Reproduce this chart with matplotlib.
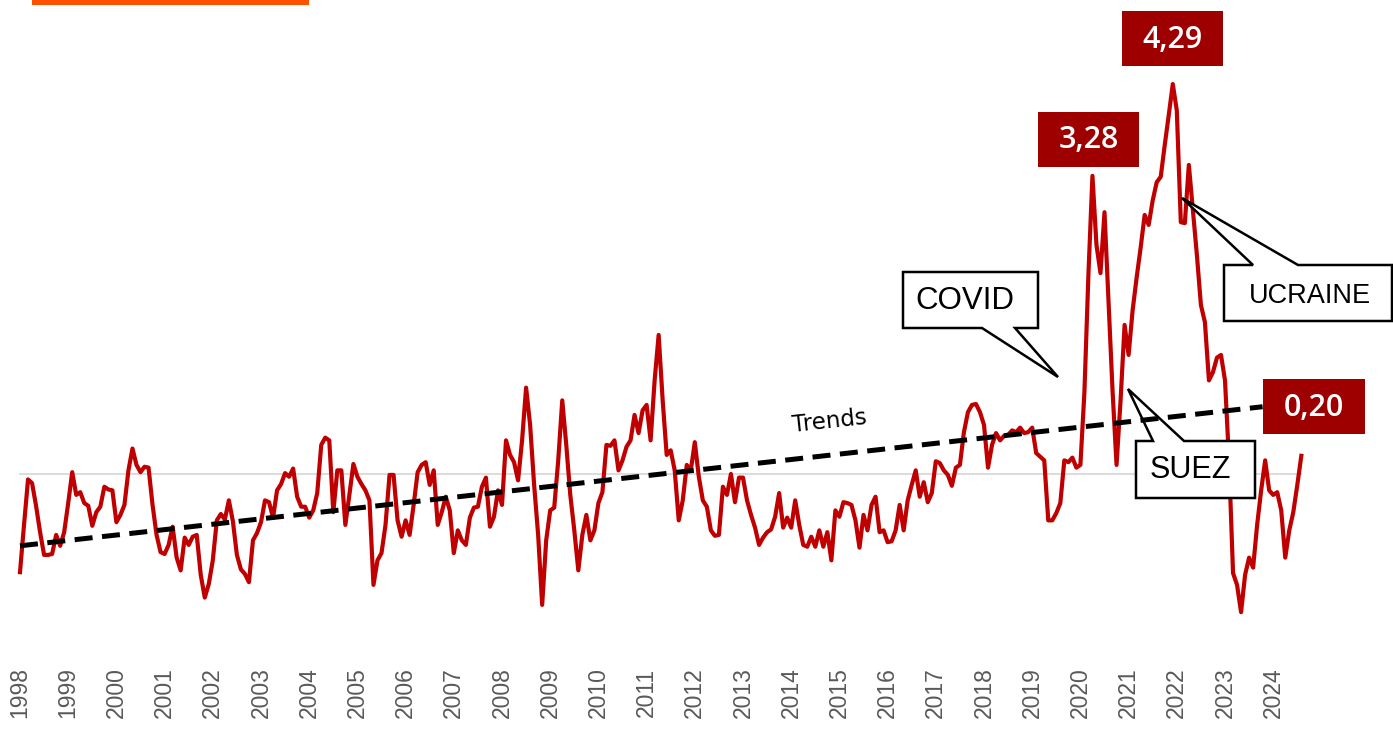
import numpy as np
import matplotlib
matplotlib.use("Agg")
import matplotlib.pyplot as plt
from matplotlib.patches import Polygon, Rectangle

# ---------------- data (monthly, Jan 1998 - Aug 2024) ----------------
start_year = 1998
values = [
    -1.08, -0.56, -0.06, -0.10, -0.35, -0.64, -0.89, -0.89, -0.88, -0.67, -0.79, -0.64,  # 1998
    -0.32, 0.02, -0.23, -0.20, -0.32, -0.35, -0.57, -0.42, -0.36, -0.14, -0.17, -0.18,   # 1999
    -0.53, -0.45, -0.34, 0.04, 0.28, 0.10, 0.02, 0.08, 0.07, -0.34, -0.67, -0.86,        # 2000
    -0.88, -0.78, -0.58, -0.92, -1.06, -0.70, -0.78, -0.69, -0.67, -1.11, -1.36, -1.21,  # 2001
    -0.95, -0.51, -0.44, -0.50, -0.29, -0.52, -0.89, -1.05, -1.10, -1.19, -0.73, -0.65,  # 2002
    -0.53, -0.29, -0.31, -0.48, -0.18, -0.11, 0.01, -0.03, 0.06, -0.25, -0.36, -0.36,    # 2003
    -0.48, -0.40, -0.21, 0.32, 0.40, 0.37, -0.42, 0.04, 0.04, -0.56, -0.23, 0.11,        # 2004
    -0.03, -0.11, -0.18, -0.29, -1.22, -0.95, -0.87, -0.56, -0.01, -0.01, -0.51, -0.69,  # 2005
    -0.51, -0.67, -0.34, 0.02, 0.10, 0.13, -0.12, 0.04, -0.56, -0.42, -0.25, -0.40,      # 2006
    -0.87, -0.62, -0.73, -0.78, -0.48, -0.37, -0.36, -0.14, -0.04, -0.58, -0.47, -0.18,  # 2007
    -0.34, 0.37, 0.21, 0.13, -0.07, 0.37, 0.95, 0.54, -0.12, -0.67, -1.44, -0.73,        # 2008
    -0.40, -0.37, 0.15, 0.81, 0.32, -0.23, -0.62, -1.06, -0.67, -0.45, -0.73, -0.62,     # 2009
    -0.32, -0.20, 0.32, 0.31, 0.37, 0.04, 0.15, 0.30, 0.37, 0.65, 0.45, 0.70,            # 2010
    0.76, 0.37, 1.03, 1.53, 0.81, 0.21, 0.26, 0.04, -0.51, -0.29, 0.10, 0.04,            # 2011
    0.35, -0.03, -0.29, -0.36, -0.62, -0.68, -0.67, -0.14, -0.23, 0.00, -0.31, -0.04,    # 2012
    -0.04, -0.29, -0.45, -0.59, -0.78, -0.70, -0.64, -0.61, -0.47, -0.21, -0.59, -0.48,  # 2013
    -0.59, -0.29, -0.56, -0.78, -0.80, -0.69, -0.80, -0.62, -0.80, -0.64, -0.95, -0.40,  # 2014
    -0.47, -0.31, -0.32, -0.34, -0.51, -0.81, -0.45, -0.62, -0.34, -0.25, -0.64, -0.62,  # 2015
    -0.75, -0.74, -0.62, -0.34, -0.62, -0.29, -0.12, 0.04, -0.25, -0.09, -0.31, -0.21,   # 2016
    0.14, 0.12, 0.04, -0.01, -0.13, 0.07, 0.10, 0.46, 0.68, 0.76, 0.77, 0.68,            # 2017
    0.54, 0.07, 0.32, 0.45, 0.37, 0.42, 0.43, 0.48, 0.46, 0.51, 0.45, 0.46,              # 2018
    0.51, 0.23, 0.19, 0.15, -0.51, -0.51, -0.43, -0.32, 0.15, 0.13, 0.18, 0.07,          # 2019
    0.10, 0.90, 2.20, 3.28, 2.52, 2.21, 2.88, 1.91, 0.92, 0.10, 0.81, 1.64,              # 2020
    1.31, 1.80, 2.16, 2.49, 2.85, 2.74, 3.01, 3.21, 3.27, 3.62, 3.95, 4.29,              # 2021
    4.00, 2.77, 2.76, 3.40, 2.90, 2.41, 1.86, 1.67, 1.03, 1.12, 1.28, 1.31,              # 2022
    1.03, 0.15, -1.09, -1.22, -1.52, -1.11, -0.92, -1.03, -0.56, -0.18, 0.15, -0.18,     # 2023
    -0.23, -0.20, -0.40, -0.92, -0.62, -0.42, -0.12, 0.20,                               # 2024
]
tick_years = list(range(1998, 2025))
tick_labels = [str(y) for y in tick_years]
trend_x = [1998.0, 2023.78]
trend_y = [-0.79, 0.74]
box_labels = ["3,28", "4,29", "0,20"]
callout_labels = ["COVID", "UCRAINE", "SUEZ"]

x = start_year + np.arange(len(values)) / 12.0

# ---------------- figure ----------------
W, H = 1393, 730
fig = plt.figure(figsize=(W / 100, H / 100), dpi=100)
ax = fig.add_axes([0, 75 / H, 1, 655 / H])
ax.set_xlim(1998 - 20 / 48.2, 1998 + (W - 20) / 48.2)
ax.set_ylim((474 - 655) / 90.9, 474 / 90.9)
for s in ax.spines.values():
    s.set_visible(False)
ax.set_yticks([])
ax.set_xticks(tick_years)
ax.set_xticklabels(tick_labels, rotation=90, fontsize=16.5, color="#595959",
                   family=["Liberation Sans", "DejaVu Sans"])
ax.tick_params(axis="x", length=0, pad=9.0)


def px(xp, yp):
    return (1998 + (xp - 20) / 48.2, (474 - yp) / 90.9)


# zero line
ax.plot([x[0], x[-1]], [0, 0], color="#d9d9d9", lw=1.3, zorder=1)
# series
ax.plot(x, values, color="#C00000", lw=3.0, zorder=2, solid_joinstyle="round")

# callouts
callouts = [
    ([(903, 272), (1038, 272), (1038, 328), (1015, 328), (1058, 377), (982, 328), (903, 328)],
     (965, 301), callout_labels[0], 22.5),
    ([(1224, 265), (1253, 265), (1182, 198), (1298, 265), (1392, 265), (1392, 321), (1224, 321)],
     (1310, 296), callout_labels[1], 19.5),
    ([(1136, 441), (1153, 441), (1128, 389), (1184, 441), (1255, 441), (1255, 498), (1136, 498)],
     (1190, 470), callout_labels[2], 22),
]
for pts, (tx, ty), lab, fs in callouts:
    poly = Polygon([px(a, b) for a, b in pts], closed=True, facecolor="white",
                   edgecolor="black", lw=1.8, zorder=3, clip_on=False, joinstyle="miter")
    ax.add_patch(poly)
    ax.text(*px(tx, ty), lab, ha="center", va="center", fontsize=fs,
            family=["Liberation Sans", "DejaVu Sans"], color="black", zorder=3.5)

# trend
ax.plot(trend_x, trend_y, color="black", lw=3.6, dashes=(3.6, 1.9),
        dash_capstyle="butt", zorder=4)
ax.text(*px(830, 421), "Trends", rotation=6.2, ha="center", va="center",
        fontsize=16.5, family=["DejaVu Sans"], color="black", zorder=4,
        rotation_mode="anchor")

# value boxes
boxes = [((1038, 112, 1139, 167), box_labels[0]),
         ((1122, 11, 1223, 66), box_labels[1]),
         ((1263, 379, 1365, 434), box_labels[2])]
for (x0, y0, x1, y1), lab in boxes:
    a0 = px(x0, y1)
    a1 = px(x1, y0)
    ax.add_patch(Rectangle(a0, a1[0] - a0[0], a1[1] - a0[1], facecolor="#9E0000",
                           edgecolor="none", zorder=5, clip_on=False))
    ax.text(*px((x0 + x1) / 2, (y0 + y1) / 2 + 1), lab, ha="center", va="center",
            fontsize=22, color="white", family=["Open Sans", "DejaVu Sans"],
            fontweight="semibold", zorder=6)

# orange bar at top-left
fig.patches.append(Rectangle((32 / W, 1 - 5 / H), 277 / W, 5 / H, transform=fig.transFigure,
                             facecolor="#FF5000", edgecolor="none"))

fig.savefig("out.png", dpi=100, facecolor="white")
